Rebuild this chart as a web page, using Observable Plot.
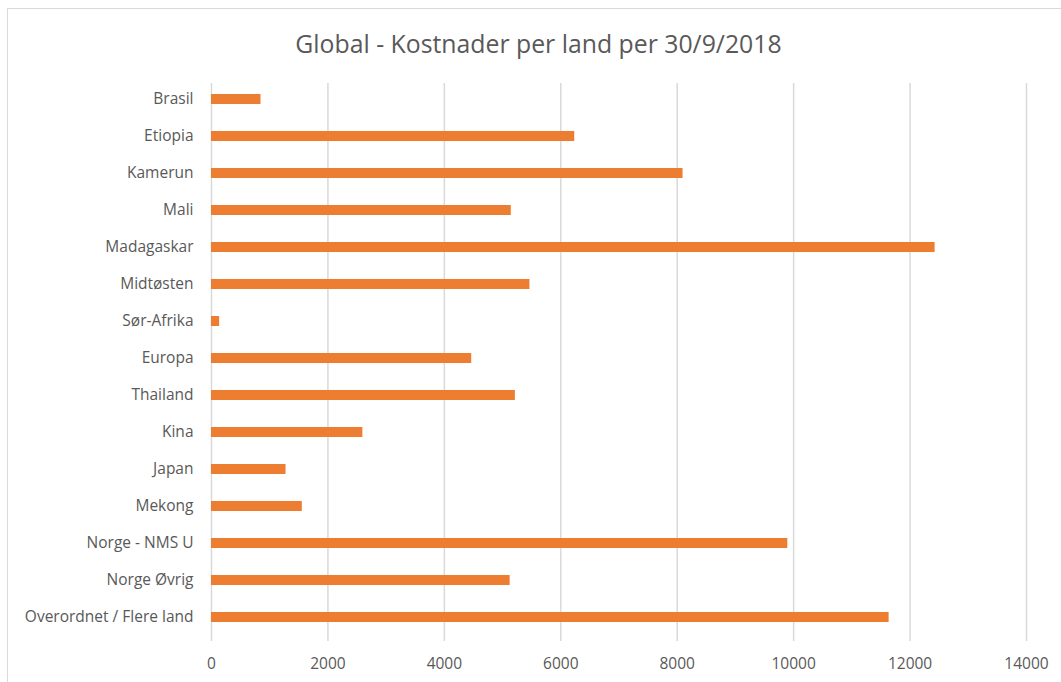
<!DOCTYPE html>
<html>
<head>
<meta charset="utf-8">
<script src="https://cdn.jsdelivr.net/npm/d3@7"></script>
<script src="https://cdn.jsdelivr.net/npm/@observablehq/plot@0.6"></script>
<style>
  html, body { margin: 0; padding: 0; background: #fff; }
  #wrap { position: relative; width: 1061px; height: 682px; overflow: hidden; font-family: "Open Sans", sans-serif; }
  #border { position: absolute; left: 7px; top: 8px; width: 1100px; height: 700px; border: 1px solid #d9d9d9; box-sizing: border-box; }
  #title { position: relative; height: 60px; box-sizing: border-box; padding-top: 23px; line-height: 40px; text-align: center; padding-left: 16px; font-size: 24.8px; color: #595959; }
  #chart { position: relative; }
</style>
</head>
<body>
<div id="wrap">
  <div id="border"></div>
  <div id="title">Global - Kostnader per land per 30/9/2018</div>
  <div id="chart"></div>
</div>
<script>
const countries = ["Brasil", "Etiopia", "Kamerun", "Mali", "Madagaskar", "Midtøsten", "Sør-Afrika", "Europa", "Thailand", "Kina", "Japan", "Mekong", "Norge - NMS U", "Norge Øvrig", "Overordnet / Flere land"];
const costs = [850, 6240, 8100, 5150, 12430, 5470, 140, 4470, 5220, 2600, 1280, 1560, 9900, 5130, 11640];
const xTicks = [0, 2000, 4000, 6000, 8000, 10000, 12000, 14000];

const data = countries.map((c, i) => ({country: c, cost: costs[i]}));

const chart = Plot.plot({
  width: 1061,
  height: 622,
  marginLeft: 211,
  marginRight: 35,
  marginTop: 23,
  marginBottom: 41,
  style: {fontFamily: "Open Sans, sans-serif", fontSize: "15.5px", color: "#595959", background: "transparent", overflow: "visible"},
  x: {domain: [0, 14000]},
  y: {domain: countries, range: [18.5, 577], paddingInner: 0.73, paddingOuter: 0.365},
  marks: [
    Plot.gridX(xTicks, {stroke: "#d9d9d9", strokeOpacity: 1, strokeWidth: 1.5}),
    Plot.barX(data, {x: "cost", y: "country", fill: "#ED7D31"}),
    Plot.axisX(xTicks, {tickSize: 0, tickPadding: 16, tickFormat: d => String(d), label: null, fill: "#595959", fontSize: 15.5}),
    Plot.axisY({tickSize: 0, tickPadding: 18, label: null, fill: "#595959", fontSize: 15.5})
  ]
});
document.getElementById("chart").appendChild(chart);
</script>
</body>
</html>
